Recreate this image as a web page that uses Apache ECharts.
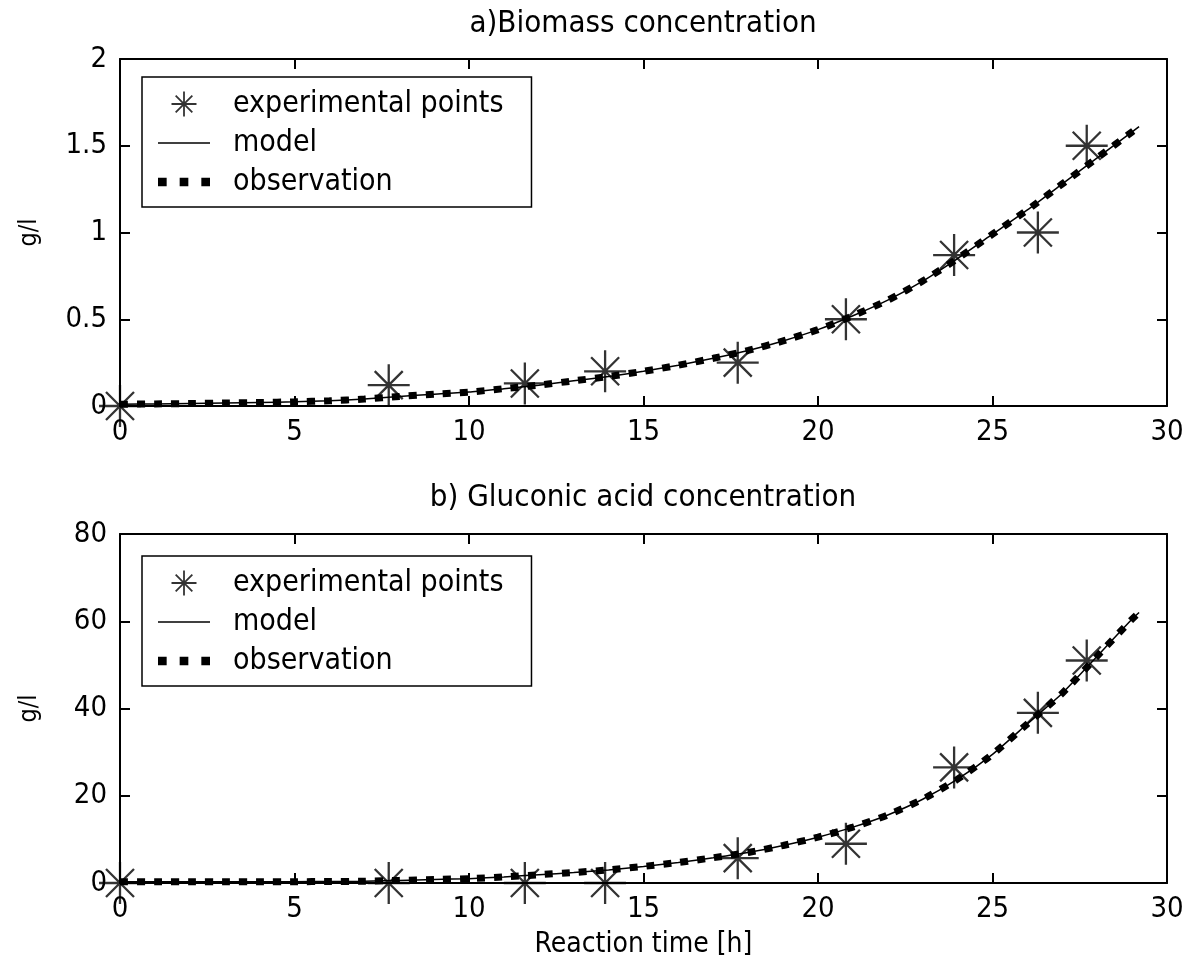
<!DOCTYPE html>
<html>
<head>
<meta charset="utf-8">
<script src="https://cdn.jsdelivr.net/npm/echarts@6/dist/echarts.min.js"></script>
<style>
  html, body { margin: 0; padding: 0; background: #fff; }
  #main { width: 1194px; height: 970px; }
</style>
</head>
<body>
<div id="main"></div>
<script>
// experimental points (hours)
var expTime = [0, 7.7, 11.6, 13.9, 17.7, 20.8, 23.9, 26.3, 27.7]
var expBiomass = [0, 0.12, 0.13, 0.2, 0.25, 0.5, 0.87, 1.0, 1.5]
var expGluconic = [0, 0, 0, 0, 5.7, 9, 26.5, 39, 51]

// model / observation curves
var curveTime = [0, 1, 2, 3, 4, 5, 6, 7, 8, 9, 10, 11, 12, 13, 14, 15, 16, 17, 18, 19, 20, 21, 22, 23, 24, 25, 26, 27, 28, 29, 29.2]
var modelBiomass = [0.01, 0.012, 0.014, 0.017, 0.02, 0.024, 0.03, 0.04, 0.055, 0.068, 0.08, 0.1, 0.12, 0.145, 0.17, 0.2, 0.235, 0.275, 0.32, 0.375, 0.44, 0.52, 0.61, 0.72, 0.85, 0.99, 1.13, 1.28, 1.43, 1.58, 1.61]
var obsBiomass = [0.01, 0.012, 0.014, 0.017, 0.02, 0.024, 0.03, 0.04, 0.055, 0.068, 0.08, 0.1, 0.12, 0.145, 0.17, 0.2, 0.235, 0.275, 0.32, 0.375, 0.44, 0.52, 0.61, 0.72, 0.85, 0.99, 1.13, 1.28, 1.43, 1.58, 1.61]
var modelGluconic = [0.3, 0.3, 0.3, 0.3, 0.3, 0.3, 0.35, 0.4, 0.6, 0.8, 1.0, 1.4, 1.9, 2.4, 3.0, 3.8, 4.7, 5.8, 7.0, 8.6, 10.5, 12.8, 15.6, 19.2, 23.8, 29.5, 36.5, 43.5, 52, 60.5, 62]
var obsGluconic = [0.3, 0.3, 0.3, 0.3, 0.3, 0.3, 0.35, 0.4, 0.6, 0.8, 1.0, 1.4, 1.9, 2.4, 3.0, 3.8, 4.7, 5.8, 7.0, 8.6, 10.5, 12.8, 15.6, 19.2, 23.8, 29.5, 36.5, 43.5, 52, 60.5, 62]

var xTicks = [0, 5, 10, 15, 20, 25, 30]
var biomassTicks = [0, 0.5, 1, 1.5, 2]
var gluconicTicks = [0, 20, 40, 60, 80]

var FONT = '"Liberation Sans Narrow", "DejaVu Sans Condensed", "Liberation Sans", Arial, sans-serif'
var STAR = 'path://M21,0V42M0,21H42M7,7L35,35M7,35L35,7'
var LINE_ICON = 'path://M0,0H52V1.6H0Z'
var DOTS_ICON = 'path://M0,0h8v8h-8zM20,0h8v8h-8zM40,0h8v8h-8z'

function pairs(xs, ys) {
    return xs.map(function (x, i) { return [x, ys[i]] })
}

function frameLine() {
    return { onZero: false, lineStyle: { color: '#000', width: 2 } }
}

function xAxes(gridIndex, showName) {
    var x = xTicks
    return [
        {
            type: 'value', gridIndex: gridIndex, position: 'bottom',
            min: x[0], max: x[x.length - 1], interval: x[1] - x[0],
            name: showName ? 'Reaction time [h]' : '', nameLocation: 'middle', nameGap: 48,
            nameTextStyle: { fontFamily: FONT, fontSize: 28, color: '#000' },
            axisLine: frameLine(),
            axisTick: { inside: true, length: 10, lineStyle: { color: '#000', width: 2 } },
            axisLabel: { fontFamily: FONT, fontSize: 29, color: '#000', margin: 12 },
            splitLine: { show: false }
        },
        {
            type: 'value', gridIndex: gridIndex, position: 'top',
            min: x[0], max: x[x.length - 1], interval: x[1] - x[0],
            axisLine: frameLine(),
            axisTick: { inside: true, length: 10, lineStyle: { color: '#000', width: 2 } },
            axisLabel: { show: false },
            splitLine: { show: false }
        }
    ]
}

function yAxes(gridIndex, ticks) {
    return [
        {
            type: 'value', gridIndex: gridIndex, position: 'left',
            min: ticks[0], max: ticks[ticks.length - 1], interval: ticks[1] - ticks[0],
            name: 'g/l', nameLocation: 'middle', nameGap: 78,
            nameTextStyle: { fontFamily: FONT, fontSize: 25, color: '#000' },
            axisLine: frameLine(),
            axisTick: { inside: true, length: 10, lineStyle: { color: '#000', width: 2 } },
            axisLabel: { fontFamily: FONT, fontSize: 29, color: '#000', margin: 13 },
            splitLine: { show: false }
        },
        {
            type: 'value', gridIndex: gridIndex, position: 'right',
            min: ticks[0], max: ticks[ticks.length - 1], interval: ticks[1] - ticks[0],
            axisLine: frameLine(),
            axisTick: { inside: true, length: 10, lineStyle: { color: '#000', width: 2 } },
            axisLabel: { show: false },
            splitLine: { show: false }
        }
    ]
}

function seriesFor(k, expY, modelY, obsY) {
    return [
        {
            name: 'experimental points', type: 'scatter',
            xAxisIndex: k * 2, yAxisIndex: k * 2,
            data: pairs(expTime, expY),
            symbol: STAR, symbolSize: 42,
            itemStyle: { color: 'rgba(0,0,0,0)', borderColor: '#000', borderWidth: 2.3 },
            clip: false, z: 4
        },
        {
            name: 'model', type: 'line',
            xAxisIndex: k * 2, yAxisIndex: k * 2,
            data: pairs(curveTime, modelY),
            symbol: 'none', smooth: 0.2,
            itemStyle: { color: '#000' },
            lineStyle: { color: '#000', width: 1.5 },
            z: 3
        },
        {
            name: 'observation', type: 'line',
            xAxisIndex: k * 2, yAxisIndex: k * 2,
            data: pairs(curveTime, obsY),
            symbol: 'none', smooth: 0.2,
            itemStyle: { color: '#000' },
            lineStyle: { color: '#000', width: 7, type: [8, 9], cap: 'butt' },
            z: 2
        }
    ]
}

function legendFor(top) {
    return {
        orient: 'vertical', left: 142, top: top,
        data: [
            { name: 'experimental points', icon: STAR, itemStyle: { color: 'rgba(0,0,0,0)', borderColor: '#000', borderWidth: 1.8 } },
            { name: 'model', icon: LINE_ICON, itemStyle: { color: '#000', borderWidth: 0 } },
            { name: 'observation', icon: DOTS_ICON, itemStyle: { color: '#000', borderWidth: 0 } }
        ],
        itemWidth: 52, itemHeight: 25, itemGap: 9,
        padding: [12, 28, 10, 16],
        borderColor: '#000', borderWidth: 1.5, backgroundColor: '#fff',
        selectedMode: false,
        textStyle: { fontFamily: FONT, fontSize: 30, color: '#000', padding: [0, 0, 0, 18] }
    }
}

var myChart = echarts.init(document.getElementById('main'))

var option = {
    animation: false,
    backgroundColor: '#fff',
    graphic: [
        { type: 'text', x: 643, y: 8, style: { text: 'a)Biomass concentration', font: '31px ' + FONT, fill: '#000', textAlign: 'center' } },
        { type: 'text', x: 643, y: 482, style: { text: 'b) Gluconic acid concentration', font: '31px ' + FONT, fill: '#000', textAlign: 'center' } }
    ],
    grid: [
        { left: 120, right: 27, top: 59, height: 347 },
        { left: 120, right: 27, top: 534, height: 349 }
    ],
    legend: [legendFor(77), legendFor(556)],
    xAxis: xAxes(0, false).concat(xAxes(1, true)),
    yAxis: yAxes(0, biomassTicks).concat(yAxes(1, gluconicTicks)),
    series: seriesFor(0, expBiomass, modelBiomass, obsBiomass).concat(seriesFor(1, expGluconic, modelGluconic, obsGluconic))
}

myChart.setOption(option)
</script>
</body>
</html>
